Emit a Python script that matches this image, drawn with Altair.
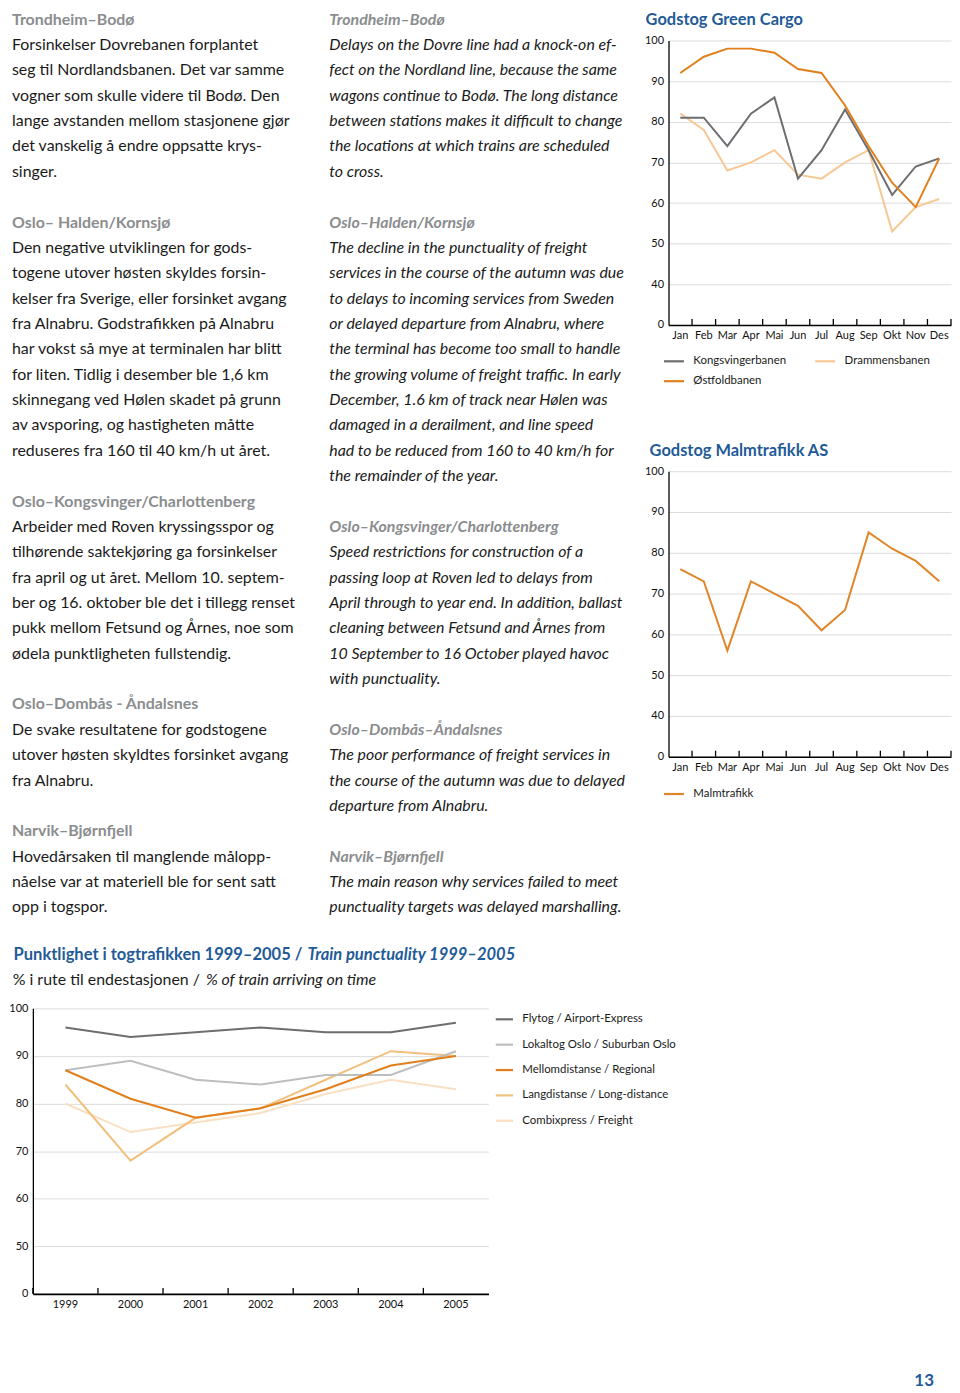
import altair as alt
import pandas as pd

FONT = "Lato"
BLUE = "#1f5b98"
GRAY_HEAD = "#8b8d8f"
TEXT = "#1a1a1a"
FS = 16
LH = 25.5
T0 = 0  # top of line 0

# ---------------- data ----------------
months = ["Jan", "Feb", "Mar", "Apr", "Mai", "Jun", "Jul", "Aug", "Sep", "Okt", "Nov", "Des"]
kongsvinger = [81, 81, 74, 82, 86, 66, 73, 83, 73, 62, 69, 71]
drammen = [82, 78, 68, 70, 73, 67, 66, 70, 73, 53, 59, 61]
ostfold = [92, 96, 98, 98, 97, 93, 92, 84, 74, 65, 59, 71]
malm = [76, 73, 56, 73, 70, 67, 61, 66, 85, 81, 78, 73]

years = ["1999", "2000", "2001", "2002", "2003", "2004", "2005"]
flytog = [96, 94, 95, 96, 95, 95, 97]
lokaltog = [87, 89, 85, 84, 86, 86, 91]
mellom = [87, 81, 77, 79, 83, 88, 90]
lang = [84, 68, 77, 79, 85, 91, 90]
combi = [80, 74, 76, 78, 82, 85, 83]

# legend fills column by column: K, Ø in first column, D in second
gc_series = ["Kongsvingerbanen", "Østfoldbanen", "Drammensbanen"]
gc_colors = ["#6d6e71", "#e07f1c", "#f6c894"]
malm_series = ["Malmtrafikk"]
malm_colors = ["#e0862a"]
year_series = ["Flytog / Airport-Express", "Lokaltog Oslo / Suburban Oslo",
               "Mellomdistanse / Regional", "Langdistanse / Long-distance",
               "Combixpress / Freight"]
year_colors = ["#6d6e71", "#bcbec0", "#e07f1c", "#f2c07e", "#f9e0c3"]

left_lines = [
    "Trondheim–Bodø",
    "Forsinkelser Dovrebanen forplantet",
    "seg til Nordlandsbanen. Det var samme",
    "vogner som skulle videre til Bodø. Den",
    "lange avstanden mellom stasjonene gjør",
    "det vanskelig å endre oppsatte krys-",
    "singer.",
    "",
    "Oslo– Halden/Kornsjø",
    "Den negative utviklingen for gods-",
    "togene utover høsten skyldes forsin-",
    "kelser fra Sverige, eller forsinket avgang",
    "fra Alnabru. Godstrafikken på Alnabru",
    "har vokst så mye at terminalen har blitt",
    "for liten. Tidlig i desember ble 1,6 km",
    "skinnegang ved Hølen skadet på grunn",
    "av avsporing, og hastigheten måtte",
    "reduseres fra 160 til 40 km/h ut året.",
    "",
    "Oslo–Kongsvinger/Charlottenberg",
    "Arbeider med Roven kryssingsspor og",
    "tilhørende saktekjøring ga forsinkelser",
    "fra april og ut året. Mellom 10. septem-",
    "ber og 16. oktober ble det i tillegg renset",
    "pukk mellom Fetsund og Årnes, noe som",
    "ødela punktligheten fullstendig.",
    "",
    "Oslo–Dombås - Åndalsnes",
    "De svake resultatene for godstogene",
    "utover høsten skyldtes forsinket avgang",
    "fra Alnabru.",
    "",
    "Narvik–Bjørnfjell",
    "Hovedårsaken til manglende målopp-",
    "nåelse var at materiell ble for sent satt",
    "opp i togspor.",
]
left_heads = [0, 8, 19, 27, 32]

mid_lines = [
    "Trondheim–Bodø",
    "Delays on the Dovre line had a knock-on ef-",
    "fect on the Nordland line, because the same",
    "wagons continue to Bodø. The long distance",
    "between stations makes it difficult to change",
    "the locations at which trains are scheduled",
    "to cross.",
    "",
    "Oslo–Halden/Kornsjø",
    "The decline in the punctuality of freight",
    "services in the course of the autumn was due",
    "to delays to incoming services from Sweden",
    "or delayed departure from Alnabru, where",
    "the terminal has become too small to handle",
    "the growing volume of freight traffic. In early",
    "December, 1.6 km of track near Hølen was",
    "damaged in a derailment, and line speed",
    "had to be reduced from 160 to 40 km/h for",
    "the remainder of the year.",
    "",
    "Oslo–Kongsvinger/Charlottenberg",
    "Speed restrictions for construction of a",
    "passing loop at Roven led to delays from",
    "April through to year end. In addition, ballast",
    "cleaning between Fetsund and Årnes from",
    "10 September to 16 October played havoc",
    "with punctuality.",
    "",
    "Oslo–Dombås–Åndalsnes",
    "The poor performance of freight services in",
    "the course of the autumn was due to delayed",
    "departure from Alnabru.",
    "",
    "Narvik–Bjørnfjell",
    "The main reason why services failed to meet",
    "punctuality targets was delayed marshalling.",
]
mid_heads = [0, 8, 20, 28, 33]

gc_title = "Godstog Green Cargo"
malm_title = "Godstog Malmtrafikk AS"
bottom_title_a = "Punktlighet i togtrafikken 1999–2005 /"
bottom_title_b = "Train punctuality 1999–2005"
bottom_sub_a = "% i rute til endestasjonen /"
bottom_sub_b = "% of train arriving on time"
page_number = "13"


# ---------------- text blocks ----------------
def text_view(lines, heads, italic, width, height):
    body = pd.DataFrame([(i, t) for i, t in enumerate(lines) if t and i not in heads],
                        columns=["line", "text"])
    head = pd.DataFrame([(i, lines[i]) for i in heads], columns=["line", "text"])
    yenc = alt.Y("line:Q", scale=alt.Scale(domain=[0, 35], range=[T0, T0 + LH * 35]), axis=None)
    b = alt.Chart(body).mark_text(
        align="left", baseline="top", font=FONT, fontSize=FS,
        fontStyle="italic" if italic else "normal", color=TEXT
    ).encode(x=alt.value(0), y=yenc, text="text:N")
    h = alt.Chart(head).mark_text(
        align="left", baseline="top", font=FONT, fontSize=FS, fontWeight="bold",
        fontStyle="italic" if italic else "normal", color=GRAY_HEAD
    ).encode(x=alt.value(0), y=yenc, text="text:N")
    return alt.layer(h, b).properties(width=width, height=height)


def label_view(texts, width, height, baseline="middle"):
    layers = []
    for (t, x, y, align, style, weight, color, size) in texts:
        layers.append(
            alt.Chart(pd.DataFrame({"t": [t]})).mark_text(
                align=align, baseline=baseline, font=FONT, fontSize=size,
                fontStyle=style, fontWeight=weight, color=color
            ).encode(x=alt.value(x), y=alt.value(y), text="t:N")
        )
    return alt.layer(*layers).properties(width=width, height=height)


# ---------------- line charts ----------------
def line_chart(cats, catname, sname, series, colors, values, draw_order, ymin, width, height,
               legend, tick_band):
    rows = []
    for s in draw_order:
        for i, (c, v) in enumerate(zip(cats, values[s])):
            rows.append({catname: c, "value": v, sname: s, "idx": i})
    df = pd.DataFrame(rows)
    xaxis = alt.Axis(title=None, ticks=False, domainColor="black", domainWidth=1.6,
                     labelAngle=0, labelPadding=5, labelFont=FONT, labelFontSize=11,
                     labelColor="#111", grid=False)
    xscale = alt.Scale(type="band", paddingInner=0, paddingOuter=0)
    yvals = [ymin] + list(range(ymin + 10, 101, 10))
    yenc = alt.Y("value:Q", scale=alt.Scale(domain=[ymin, 100], nice=False, zero=False),
                 axis=alt.Axis(values=yvals, title=None,
                               labelExpr=f"datum.value == {ymin} ? '0' : datum.label",
                               grid=True, gridColor="#dcdcdc", gridWidth=1,
                               domainColor="black", domainWidth=1.3, ticks=False, tickSize=0,
                               labelPadding=5, labelFont=FONT, labelFontSize=11,
                               labelColor="#111"))
    lines = alt.Chart(df).mark_line(strokeWidth=2, strokeJoin="miter").encode(
        x=alt.X(f"{catname}:N", sort=cats, scale=xscale, axis=xaxis, bandPosition=0.5),
        y=yenc,
        color=alt.Color(f"{sname}:N", scale=alt.Scale(domain=series, range=colors), legend=legend),
        detail=f"{sname}:N",
        order=alt.Order("idx:Q"),
    )
    tdf = pd.DataFrame({catname: cats})
    ticks = alt.Chart(tdf).mark_rule(color="black", strokeWidth=1.3).encode(
        x=alt.X(f"{catname}:N", sort=cats, scale=xscale, axis=xaxis, bandPosition=tick_band),
        y=alt.value(height - 6), y2=alt.value(height),
    )
    return alt.layer(lines, ticks).properties(width=width, height=height)


def legend_spec(x, y, cols, colpad, rowpad, symsize, offset):
    return alt.Legend(title=None, orient="none", legendX=x, legendY=y, columns=cols,
                      columnPadding=colpad, rowPadding=rowpad, symbolType="stroke",
                      symbolSize=symsize, symbolStrokeWidth=2.2, labelFont=FONT,
                      labelFontSize=11.5, labelColor="#1a1a1a", labelOffset=offset,
                      gridAlign="each")


def indep(c):
    return c.resolve_scale(color="independent").resolve_legend(color="independent")


RW = 284
gc_chart = line_chart(
    months, "month", "bane", gc_series, gc_colors,
    {"Kongsvingerbanen": kongsvinger, "Drammensbanen": drammen, "Østfoldbanen": ostfold},
    ["Drammensbanen", "Kongsvingerbanen", "Østfoldbanen"], 30, RW, 286,
    legend_spec(-6, 311, 2, 24, 3, 400, 8), 1,
)
malm_chart = line_chart(
    months, "month", "malmserie", malm_series, malm_colors, {"Malmtrafikk": malm},
    ["Malmtrafikk"], 30, RW, 287,
    legend_spec(-6, 313, 1, 20, 3, 400, 8), 1,
)
bottom_chart = line_chart(
    years, "year", "togtype", year_series, year_colors,
    dict(zip(year_series, [flytog, lokaltog, mellom, lang, combi])),
    ["Combixpress / Freight", "Langdistanse / Long-distance", "Lokaltog Oslo / Suburban Oslo",
     "Flytog / Airport-Express", "Mellomdistanse / Regional"], 40, 458, 287,
    legend_spec(464, 1, 1, 10, 9.5, 300, 8), 0,
)

# ---------------- layout ----------------
left = text_view(left_lines, left_heads, False, 316, 910)
mid = text_view(mid_lines, mid_heads, True, 338, 910)

gc_title_view = label_view([(gc_title, -23, T0, "left", "normal", "bold", BLUE, 16.5)], RW, 29,
                           baseline="top")
malm_title_view = label_view([(malm_title, -19, T0 + LH * 17 - 315, "left", "normal", "bold", BLUE, 16.5)],
                             RW, 147, baseline="top")

right_col = indep(alt.vconcat(gc_title_view, gc_chart, malm_title_view, malm_chart,
                              spacing=0, bounds="flush"))
row_a = indep(alt.hconcat(left, mid, right_col, spacing=3, bounds="flush"))

ty = 38
row_b = label_view([
    (bottom_title_a, 292, ty, "right", "normal", "bold", BLUE, 16.6),
    (bottom_title_b, 297, ty, "left", "italic", "bold", BLUE, 16.6),
    (bottom_sub_a, 189, ty + LH, "right", "normal", "normal", TEXT, 16),
    (bottom_sub_b, 195, ty + LH, "left", "italic", "normal", TEXT, 16),
], 900, 86)

spacer = alt.Chart(pd.DataFrame({"t": [""]})).mark_text().encode(text="t:N").properties(width=21, height=287)
row_c = indep(alt.hconcat(spacer, bottom_chart, spacing=0, bounds="flush"))

row_d = label_view([(page_number, 917, 72, "center", "normal", "bold", BLUE, 17)], 900, 66)

chart = indep(alt.vconcat(row_a, row_b, row_c, row_d, spacing=0,
                          padding={"left": 0, "top": 0, "right": 0, "bottom": 0})
              ).configure_view(strokeWidth=0)

chart.save("out.html", embed_options={"renderer": "svg", "actions": False})
